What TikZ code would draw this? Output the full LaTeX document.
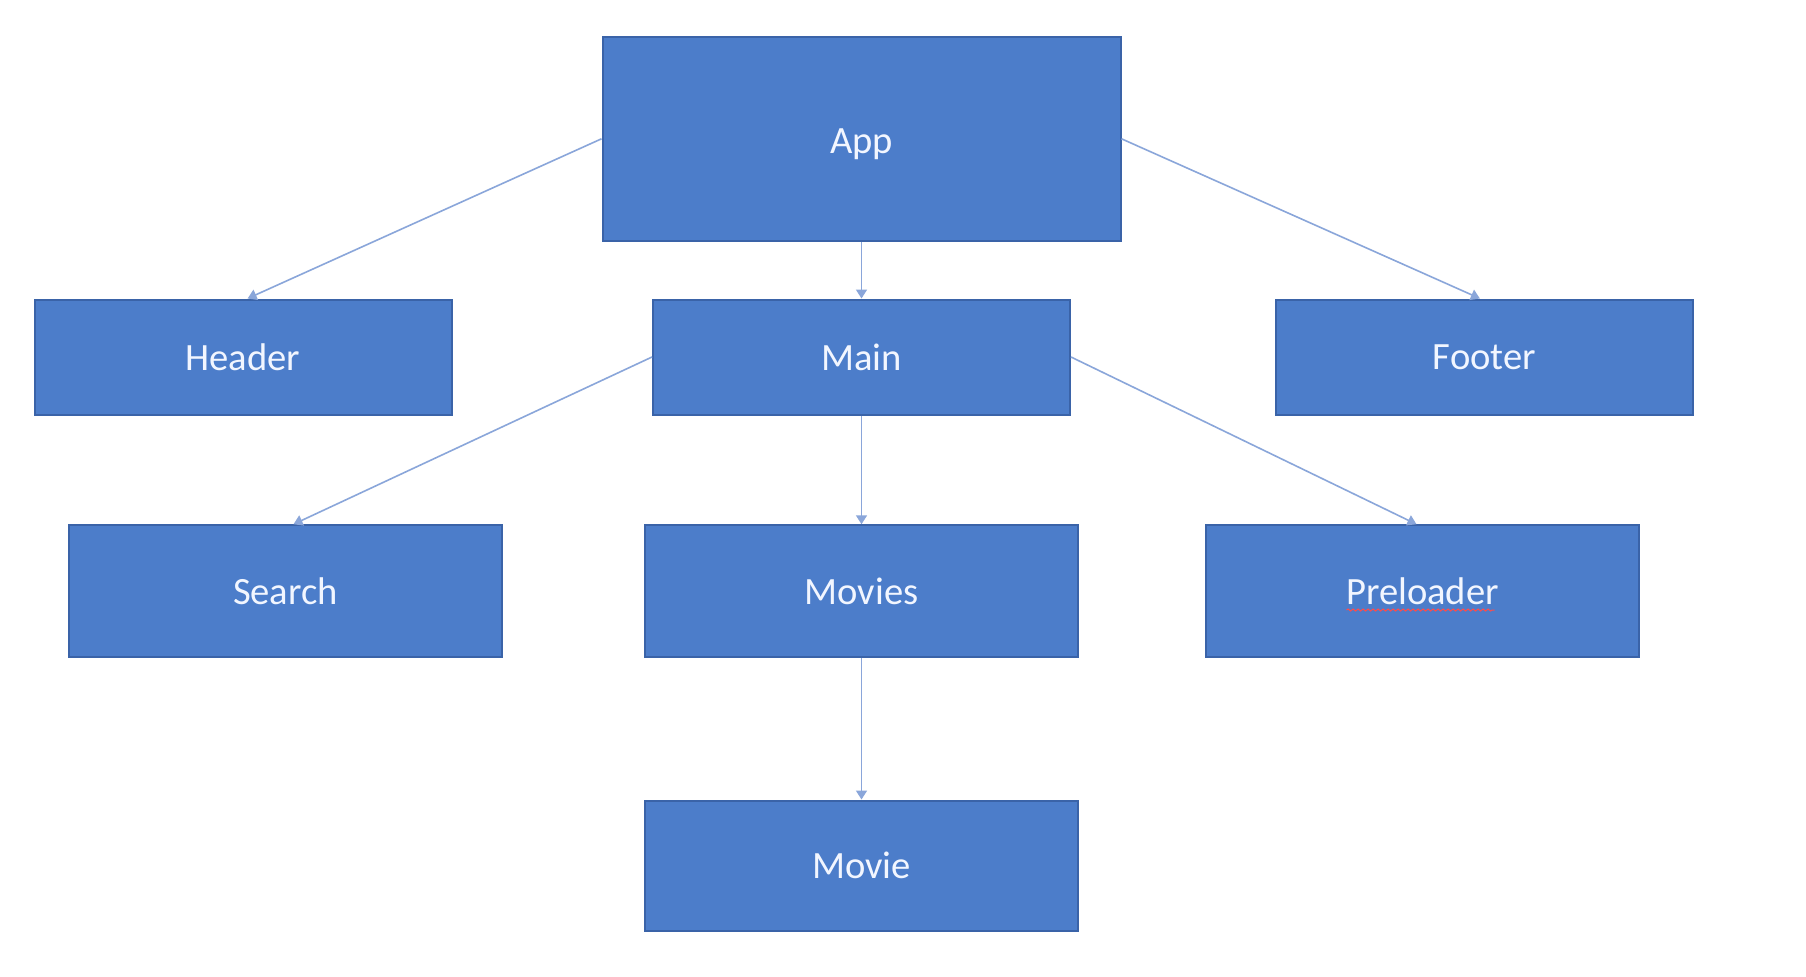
\documentclass[tikz,border=0pt]{standalone}
\usepackage{fontspec}
\setmainfont{Carlito}
\usetikzlibrary{arrows.meta,decorations.pathmorphing}
\definecolor{boxfill}{HTML}{4C7DCA}
\definecolor{boxline}{HTML}{3A63A8}
\definecolor{linkcol}{HTML}{8AA6DA}
\definecolor{txtcol}{HTML}{F2F6FF}
\tikzset{
  box/.style={rectangle, fill=boxfill, draw=boxline, line width=1pt, inner sep=0pt,
    text=txtcol, font=\fontsize{19.3}{23}\selectfont},
  toprow/.style={box, minimum width=259pt, minimum height=102pt},
  midrow/.style={box, minimum width=208.5pt, minimum height=57.5pt},
  lowrow/.style={box, minimum width=216.5pt, minimum height=65.75pt},
  link/.style={draw=linkcol, line width=0.8pt, -{Triangle[length=4.5pt,width=5.5pt]}}
}
\begin{document}
\begin{tikzpicture}[x=0.5pt,y=-0.5pt]
\useasboundingbox[fill=white] (0,0) rectangle (1806,976);
\node[toprow] (app) at (861.5,138.8) {\raisebox{-7.5pt}[0pt][0pt]{App}};
\node[midrow] (header) at (243,357) {Header};
\node[midrow] (main) at (861.5,357) {Main};
\node[midrow] (footer) at (1484.5,357) {Footer};
\node[lowrow] (search) at (285.5,591) {Search};
\node[lowrow] (movies) at (861.5,591) {Movies};
\node[lowrow] (preloader) at (1422.5,591) {Preloader};
\node[box, minimum width=216.5pt, minimum height=65pt] (movie) at (861.5,865.5) {Movie};
\draw[link] (app.west) -- ([xshift=2.3pt]header.north);
\draw[link] (app.east) -- ([xshift=-2.3pt]footer.north);
\draw[link] (app.south) -- (main.north);
\draw[link] (main.west) -- ([xshift=4pt]search.north);
\draw[link] (main.east) -- ([xshift=-3pt]preloader.north);
\draw[link] (main.south) -- (movies.north);
\draw[link] (movies.south) -- (movie.north);
\coordinate (wl) at ([xshift=-38pt,yshift=-9.5pt]preloader.center);
\coordinate (wr) at ([xshift=36pt,yshift=-9.5pt]preloader.center);
\draw[red!70!white, line width=0.5pt, decorate, decoration={snake, amplitude=0.5pt, segment length=2.5pt}] (wl) -- (wr);
\end{tikzpicture}
\end{document}
